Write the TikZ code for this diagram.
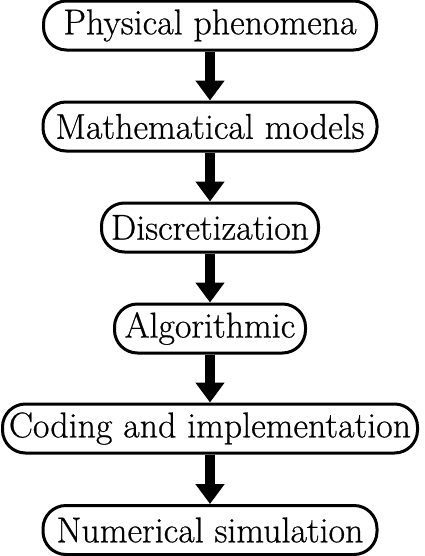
\documentclass[tikz,border=0pt]{standalone}
\usepackage{fontspec}
\newfontfamily\heavylm{Latin Modern Roman}[FakeBold=0.6]
\usetikzlibrary{arrows.meta}
\begin{document}
\begin{tikzpicture}[
  stage/.style={draw=black, line width=3bp, rounded corners=23bp, fill=white,
    minimum height=49bp, inner xsep=3bp, inner ysep=0bp,
    font=\heavylm\fontsize{36}{42}\selectfont},
  flow/.style={line width=10bp, -{Triangle[width=28bp,length=20bp]}}
]
\useasboundingbox (0,0) rectangle (425bp,-556bp);
\node[stage, minimum width=333bp] (b1) at (210bp,-25.5bp) {Physical phenomena};
\node[stage, minimum width=334bp] (b2) at (210bp,-126.5bp) {Mathematical models};
\node[stage, minimum width=217bp] (b3) at (210bp,-227.5bp) {Discretization};
\node[stage, minimum width=191bp] (b4) at (210bp,-328.5bp) {Algorithmic};
\node[stage, minimum width=415bp] (b5) at (210bp,-428.5bp) {Coding and implementation};
\node[stage, minimum width=334bp] (b6) at (210bp,-530bp) {Numerical simulation};
\draw[flow] (b1.south) -- (b2.north);
\draw[flow] (b2.south) -- (b3.north);
\draw[flow] (b3.south) -- (b4.north);
\draw[flow] (b4.south) -- (b5.north);
\draw[flow] (b5.south) -- (b6.north);
\end{tikzpicture}
\end{document}
